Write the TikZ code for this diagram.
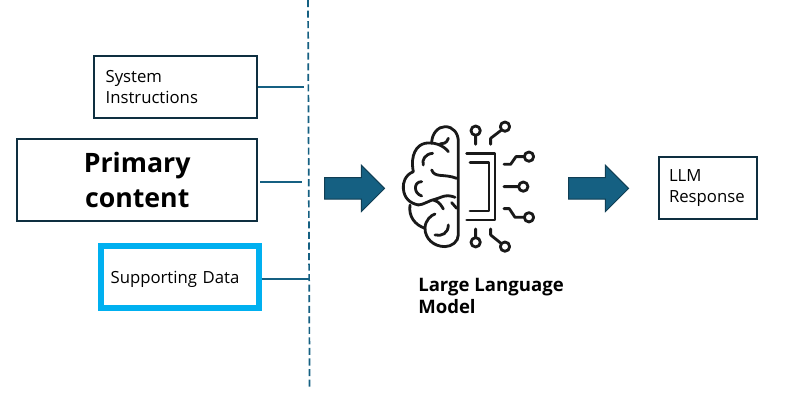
\documentclass[tikz,border=0pt]{standalone}
\usepackage{fontspec}
\setmainfont{Open Sans}
\usetikzlibrary{shapes.arrows}
\definecolor{boxcol}{HTML}{0E2F40}
\definecolor{linkcol}{HTML}{156082}
\definecolor{accentcol}{HTML}{00B0F0}
\tikzset{
  inbox/.style={draw=boxcol, line width=1.5pt, fill=white, align=left, text=black, inner xsep=0pt, inner ysep=0pt, font=\fontsize{11.9}{15}\selectfont},
  link/.style={draw=linkcol, line width=1.1pt},
  bigarrow/.style={single arrow, draw=boxcol!70!linkcol, line width=0.7pt, fill=linkcol, inner sep=0.255cm, minimum width=1.13cm, minimum height=1.5cm, single arrow head extend=0.31cm, single arrow head indent=0pt},
  icon/.style={line width=2pt, draw=black!90, line cap=round, line join=round},
}
\begin{document}
\begin{tikzpicture}
\useasboundingbox (0,0) rectangle (19.9,10);
% input boxes
\node[inbox, minimum width=4.06cm, minimum height=1.54cm, text width=3.5cm] (sys) at (4.39,7.82) {System\\Instructions};
\node[inbox, minimum width=6.0cm, minimum height=2.04cm, align=center, text width=6.0cm, font=\fontsize{19}{25}\selectfont\bfseries] (prim) at (3.43,5.5) {Primary\\content};
\node[inbox, draw=accentcol, line width=4.3pt, minimum width=3.95cm, minimum height=1.54cm, text width=3.45cm, text height=12pt, text depth=3pt] (supp) at (4.49,3.08) {Supporting Data};
% bus line
\coordinate (bustop) at (7.70,10);
\coordinate (busbot) at (7.74,0.25);
\draw[link, line width=1.2pt, dash pattern=on 5pt off 2.5pt] (bustop) -- (busbot);
\coordinate (sysbus) at (7.6,7.83);
\coordinate (primbus) at (7.55,5.45);
\coordinate (suppbus) at (7.72,3.03);
\draw[link] (sys.east |- sysbus) -- (sysbus);
\draw[link, shorten <=0.05cm] (prim.east |- primbus) -- (primbus);
\draw[link] (supp.east |- suppbus) -- (suppbus);
% arrows
\node[bigarrow] (arrowa) at (8.73,5.29) {};
\node[bigarrow] (arrowb) at (14.83,5.29) {};
% brain and chip
\begin{scope}[shift={(9.75,7.25)}, x=0.00833cm, y=-0.00833cm]
\draw[icon] (125,100) .. controls (125,70) and (145,50) .. (165,50) .. controls (190,50) and (205,70) .. (205,95) -- (205,375) .. controls (205,395) and (185,410) .. (165,410) .. controls (130,410) and (105,385) .. (105,355) .. controls (105,330) and (125,315) .. (135,312);
\draw[icon] (175,125) .. controls (160,105) and (130,95) .. (105,100) .. controls (80,105) and (60,135) .. (70,185) .. controls (45,195) and (38,220) .. (40,235) .. controls (42,265) and (60,280) .. (85,285);
\draw[icon] (60,285) .. controls (55,320) and (75,345) .. (105,355);
\draw[icon] (175,85) .. controls (170,100) and (160,102) .. (150,102);
\draw[icon] (128,130) .. controls (105,132) and (95,150) .. (100,165);
\draw[icon] (125,180) .. controls (135,205) and (160,190) .. (200,205);
\draw[icon] (95,215) .. controls (70,215) and (70,250) .. (95,258);
\draw[icon] (85,285) .. controls (100,285) and (120,270) .. (135,268) .. controls (150,265) and (165,250) .. (195,262);
\draw[icon] (130,270) .. controls (150,275) and (155,290) .. (160,297);
\draw[icon] (185,278) -- (200,295);
\draw[icon] (175,345) .. controls (175,370) and (155,380) .. (135,375);
% chip
\draw[icon] (230,130) -- (315,130) -- (315,330) -- (230,330);
\draw[icon] (240,158) -- (297,158) -- (297,303) -- (240,303);
% circuit traces
\draw[icon] (257,62) circle (14) (257,78) -- (257,103);
\draw[icon] (345,50) circle (14) (302,103) -- (302,85) -- (332,62);
\draw[icon] (417,140) circle (14) (342,163) -- (362,163) -- (378,140) -- (403,140);
\draw[icon] (400,230) circle (14) (342,230) -- (385,230);
\draw[icon] (417,322) circle (14) (342,296) -- (358,296) -- (375,322) -- (403,322);
\draw[icon] (257,397) circle (14) (257,357) -- (257,382);
\draw[icon] (345,410) circle (14) (302,357) -- (302,375) -- (333,400);
\end{scope}
\node[anchor=north west, align=left, inner sep=0pt, font=\fontsize{13.2}{15.8}\selectfont\bfseries] (model) at (10.45,3.05) {Large Language\\Model};
% output box
\node[inbox, minimum width=2.45cm, minimum height=1.55cm, text width=1.95cm] (resp) at (17.7,5.3) {LLM\\Response};
\end{tikzpicture}
\end{document}
